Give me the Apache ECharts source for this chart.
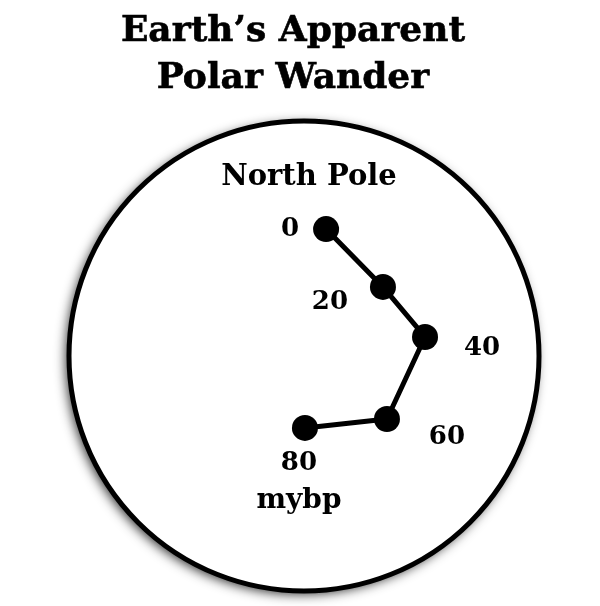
<!DOCTYPE html>
<html>
<head>
<meta charset="utf-8">
<script src="https://cdn.jsdelivr.net/npm/echarts@6/dist/echarts.min.js"></script>
<style>
  html, body { margin: 0; padding: 0; background: #ffffff; }
  #chart { width: 600px; height: 606px; }
</style>
</head>
<body>
<div id="chart"></div>
<script>
// ---- Data (globe units: globe radius = 100, centre = 0,0) ----
const titleText = 'Earth\u2019s Apparent\nPolar Wander';
const poleLabel = 'North Pole';
const unitLabel = 'mybp';
const ages = [0, 20, 40, 60, 80];               // million years before present
const poleX = [9.4, 33.6, 51.5, 35.3, 0.4];       // east offset of pole position
const poleY = [54.0, 29.4, 8.1, -26.8, -30.6];    // north offset of pole position
const globe = [[0, 0, 100]];                      // centre x, centre y, radius

// ---- Styling (label placement per point, in pixels) ----
const labelOffsets = [[-36, 0], [-53, 15], [57, 11], [60, 18], [-6, 54]];
const FONT = 'DejaVu Serif';

const chart = echarts.init(document.getElementById('chart'), null, { renderer: 'canvas' });

const pathData = ages.map((a, i) => ({
  value: [poleX[i], poleY[i], a],
  label: { offset: labelOffsets[i] }
}));

const option = {
  backgroundColor: '#ffffff',
  animation: false,
  title: {
    text: titleText,
    left: 293,
    top: 8,
    textAlign: 'center',
    padding: 0,
    textStyle: {
      fontFamily: FONT,
      fontWeight: 'bold',
      fontSize: 36,
      lineHeight: 47,
      color: '#000000',
      textBorderColor: '#000000',
      textBorderWidth: 0.6
    }
  },
  graphic: [{
    type: 'text',
    x: 309,
    y: 177,
    style: {
      text: poleLabel,
      fontFamily: FONT,
      fontWeight: 'bold',
      fontSize: 29,
      fill: '#000000',
      align: 'center',
      verticalAlign: 'middle'
    },
    z: 10
  }],
  grid: { left: 69, top: 121, width: 470, height: 470 },
  xAxis: { type: 'value', min: -100, max: 100, show: false },
  yAxis: { type: 'value', min: -100, max: 100, show: false },
  series: [
    {
      type: 'custom',
      silent: true,
      z: 1,
      data: globe,
      renderItem: function (params, api) {
        const c = api.coord([api.value(0), api.value(1)]);
        const s = api.size([api.value(2), api.value(2)]);
        const r = s[0];
        return {
          type: 'group',
          children: [
            {
              type: 'circle',
              shape: { cx: c[0], cy: c[1], r: r },
              style: {
                fill: '#ffffff',
                shadowBlur: 12,
                shadowOffsetX: -3,
                shadowOffsetY: 3,
                shadowColor: 'rgba(0,0,0,0.85)'
              }
            },
            {
              type: 'circle',
              shape: { cx: c[0], cy: c[1], r: r },
              style: { fill: 'none', stroke: '#000000', lineWidth: 5 }
            }
          ]
        };
      }
    },
    {
      type: 'line',
      z: 5,
      data: pathData,
      symbol: 'circle',
      symbolSize: 26,
      showSymbol: true,
      itemStyle: { color: '#000000' },
      lineStyle: { color: '#000000', width: 5 },
      label: {
        show: true,
        position: 'inside',
        align: 'center',
        verticalAlign: 'middle',
        formatter: function (p) {
          const age = p.value[2];
          return p.dataIndex === ages.length - 1
            ? '{n|' + age + '}\n{u|' + unitLabel + '}'
            : '{n|' + age + '}';
        },
        rich: {
          n: { fontFamily: FONT, fontWeight: 'bold', fontSize: 26, color: '#000000', lineHeight: 38 },
          u: { fontFamily: FONT, fontWeight: 'bold', fontSize: 28, color: '#000000', lineHeight: 38 }
        }
      },
      emphasis: { disabled: true }
    }
  ]
};

chart.setOption(option);
</script>
</body>
</html>
